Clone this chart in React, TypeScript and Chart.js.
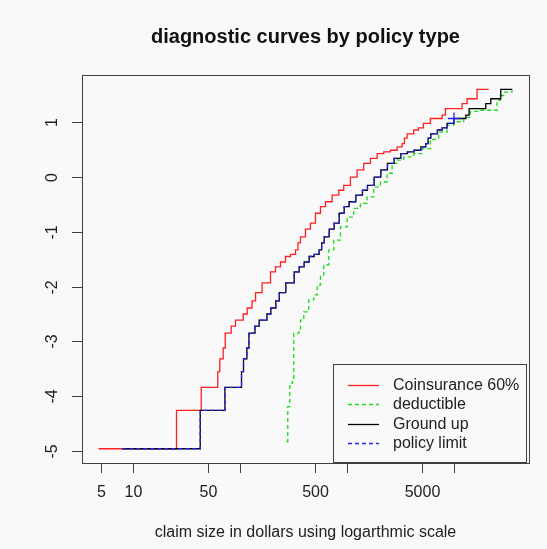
import { useEffect, useRef } from "react";
import { Chart, registerables } from "chart.js";

Chart.register(...registerables);

// ---- data ----
const coinsuranceX = [4.72, 25.3, 43.1, 61.6, 64.3, 69.2, 72.3, 82.3, 90.2, 106.5, 116, 129, 139, 160, 191.8, 213.5, 237.9, 264.9, 295, 328.6, 346.7, 365.9, 407.5, 453.9, 505.5, 563.1, 627, 724.3, 835, 929.9, 1074, 1241, 1431, 1653, 1909, 2201, 2543, 2938, 3271, 3437, 3643, 4201, 4648, 5176, 6019, 7745, 8314, 11912, 13275, 16456, 21125];
const coinsuranceY = [-4.96, -4.26, -3.84, -3.55, -3.32, -3.12, -2.85, -2.72, -2.61, -2.5, -2.39, -2.26, -2.11, -1.93, -1.73, -1.64, -1.55, -1.45, -1.41, -1.33, -1.2, -1.09, -0.95, -0.84, -0.66, -0.54, -0.45, -0.33, -0.24, -0.15, 0.0, 0.13, 0.25, 0.34, 0.43, 0.46, 0.49, 0.55, 0.61, 0.71, 0.79, 0.86, 0.9, 0.98, 1.07, 1.13, 1.25, 1.34, 1.43, 1.6, 1.6];

const deductibleX = [270.6, 278.3, 290.5, 307.9, 316.7, 352.8, 365.9, 392.8, 437.5, 487.4, 524.4, 563.1, 604.5, 673.1, 749.6, 865.9, 1000, 1153, 1332, 1539, 1774, 2050, 2368, 2638, 2938, 3386, 4201, 5033, 6019, 7196, 8627, 9940, 12331, 14243, 17670, 25319, 27189, 29180, 34978];
const deductibleY = [-4.83, -4.19, -3.76, -3.7, -2.85, -2.82, -2.61, -2.46, -2.24, -2.15, -1.97, -1.79, -1.6, -1.33, -1.15, -0.91, -0.73, -0.57, -0.48, -0.36, -0.18, -0.09, 0.07, 0.25, 0.31, 0.37, 0.43, 0.52, 0.69, 0.82, 0.95, 1.01, 1.09, 1.2, 1.22, 1.4, 1.49, 1.55, 1.58];

const groundUpX = [7.87, 42.2, 71.8, 102.7, 107.2, 115.3, 120.5, 137.2, 150.3, 177.5, 193.3, 215, 231.7, 266.7, 319.7, 355.8, 396.5, 441.5, 491.7, 547.7, 577.8, 609.8, 679.2, 756.5, 842.5, 938.5, 1045, 1207, 1392, 1550, 1790, 2068, 2385, 2755, 3182, 3668, 4238, 4897, 5452, 5728, 6072, 7002, 7747, 8627, 10000, 12908, 13857, 19853, 22125, 27427, 35208];
const groundUpY = [-4.96, -4.26, -3.84, -3.55, -3.32, -3.12, -2.85, -2.72, -2.61, -2.5, -2.39, -2.26, -2.11, -1.93, -1.73, -1.64, -1.55, -1.45, -1.41, -1.33, -1.2, -1.09, -0.95, -0.84, -0.66, -0.54, -0.45, -0.33, -0.24, -0.15, 0.0, 0.13, 0.25, 0.34, 0.43, 0.46, 0.49, 0.55, 0.61, 0.71, 0.79, 0.86, 0.9, 0.98, 1.07, 1.13, 1.25, 1.34, 1.43, 1.6, 1.6];

const policyLimitX = [7.87, 42.2, 71.8, 102.7, 107.2, 115.3, 120.5, 137.2, 150.3, 177.5, 193.3, 215, 231.7, 266.7, 319.7, 355.8, 396.5, 441.5, 491.7, 547.7, 577.8, 609.8, 679.2, 756.5, 842.5, 938.5, 1045, 1207, 1392, 1550, 1790, 2068, 2385, 2755, 3182, 3668, 4238, 4897, 5452, 5728, 6072, 7002, 7747, 8627, 10000];
const policyLimitY = [-4.96, -4.26, -3.84, -3.55, -3.32, -3.12, -2.85, -2.72, -2.61, -2.5, -2.39, -2.26, -2.11, -1.93, -1.73, -1.64, -1.55, -1.45, -1.41, -1.33, -1.2, -1.09, -0.95, -0.84, -0.66, -0.54, -0.45, -0.33, -0.24, -0.15, 0.0, 0.13, 0.25, 0.34, 0.43, 0.46, 0.49, 0.55, 0.61, 0.71, 0.79, 0.86, 0.9, 0.98, 1.07];

const xTicks = [5, 10, 50, 100, 500, 1000, 5000, 10000];
const xTickLabels = ["5", "10", "50", "", "500", "", "5000", ""];
const yTicks = [-5, -4, -3, -2, -1, 0, 1];
const yTickLabels = ["-5", "-4", "-3", "-2", "-1", "0", "1"];

const seriesLabels = ["Coinsurance 60%", "deductible", "Ground up", "policy limit"];
const seriesColors = ["#ff2020", "#18dd18", "#000000", "#2424ee"];
const seriesDashed = [false, true, false, true];

const titleText = "diagnostic curves by policy type";
const xTitleText = "claim size in dollars using logarthmic scale";

const FONT = "'Liberation Sans', Arial, Helvetica, sans-serif";
const BG = "#f9f9f9";

const toPoints = (xs: number[], ys: number[]) => xs.map((v, i) => ({ x: v, y: ys[i] }));

const rPlotPlugin = {
  id: "rPlot",
  beforeDraw(chart: any) {
    const { ctx, width, height } = chart;
    ctx.save();
    ctx.fillStyle = BG;
    ctx.fillRect(0, 0, width, height);
    ctx.restore();
  },
  afterDraw(chart: any) {
    const { ctx, chartArea: a, scales } = chart;
    const xs = scales.x;
    const ys = scales.y;
    ctx.save();
    const axisColor = "#404040";
    const textColor = "#222";
    ctx.strokeStyle = axisColor;
    ctx.lineWidth = 1;
    ctx.setLineDash([]);
    // box
    ctx.strokeRect(Math.round(a.left) + 0.5, Math.round(a.top) + 0.5, Math.round(a.right - a.left), Math.round(a.bottom - a.top));

    // x ticks
    ctx.font = `16px ${FONT}`;
    ctx.fillStyle = textColor;
    ctx.textAlign = "center";
    ctx.textBaseline = "middle";
    xTicks.forEach((v, i) => {
      const px = Math.round(xs.getPixelForValue(v)) + 0.5;
      ctx.beginPath();
      ctx.moveTo(px, a.bottom);
      ctx.lineTo(px, a.bottom + 10);
      ctx.stroke();
      if (xTickLabels[i]) ctx.fillText(xTickLabels[i], px, a.bottom + 30);
    });
    // y ticks
    yTicks.forEach((v, i) => {
      const py = Math.round(ys.getPixelForValue(v)) + 0.5;
      ctx.beginPath();
      ctx.moveTo(a.left, py);
      ctx.lineTo(a.left - 10, py);
      ctx.stroke();
      ctx.save();
      ctx.translate(a.left - 29, py);
      ctx.rotate(-Math.PI / 2);
      ctx.fillText(yTickLabels[i], 0, 0);
      ctx.restore();
    });

    // titles
    const cx = (a.left + a.right) / 2;
    ctx.font = `bold 20px ${FONT}`;
    ctx.fillStyle = "#111";
    ctx.fillText(titleText, cx, 37);
    ctx.font = `16px ${FONT}`;
    ctx.fillStyle = textColor;
    ctx.fillText(xTitleText, cx, 533);

    // legend
    const lr = a.right - 3;
    const lb = a.bottom - 1;
    const lw = 193;
    const lh = 98;
    const ll = lr - lw;
    const lt = lb - lh;
    ctx.fillStyle = BG;
    ctx.fillRect(ll, lt, lw, lh);
    ctx.strokeStyle = axisColor;
    ctx.strokeRect(Math.round(ll) + 0.5, Math.round(lt) + 0.5, lw, lh);
    ctx.textAlign = "left";
    seriesLabels.forEach((lab, i) => {
      const y = Math.round(lt + 21 + i * 19.3) + 0.5;
      ctx.strokeStyle = seriesColors[i];
      ctx.lineWidth = 1.3;
      ctx.setLineDash(seriesDashed[i] ? [4, 3] : []);
      ctx.beginPath();
      ctx.moveTo(ll + 15, y);
      ctx.lineTo(ll + 46, y);
      ctx.stroke();
      ctx.setLineDash([]);
      ctx.fillStyle = textColor;
      ctx.fillText(lab, ll + 60, y);
    });
    ctx.restore();
  },
};

export default function App() {
  const ref = useRef<HTMLCanvasElement | null>(null);
  useEffect(() => {
    document.body.style.margin = "0";
    document.body.style.background = BG;
    const canvas = ref.current;
    if (!canvas) return;
    const lastIdx = policyLimitX.length - 1;
    const chart = new Chart(canvas, {
      type: "line",
      data: {
        datasets: [
          {
            label: seriesLabels[0],
            data: toPoints(coinsuranceX, coinsuranceY),
            borderColor: seriesColors[0],
            borderWidth: 1.3,
            stepped: true,
            pointRadius: 0,
            fill: false,
            order: 4,
          },
          {
            label: seriesLabels[1],
            data: toPoints(deductibleX, deductibleY),
            borderColor: seriesColors[1],
            borderWidth: 1.3,
            borderDash: [4, 3],
            stepped: true,
            pointRadius: 0,
            fill: false,
            order: 3,
          },
          {
            label: seriesLabels[2],
            data: toPoints(groundUpX, groundUpY),
            borderColor: seriesColors[2],
            borderWidth: 1.3,
            stepped: true,
            pointRadius: 0,
            fill: false,
            order: 2,
          },
          {
            label: seriesLabels[3],
            data: toPoints(policyLimitX, policyLimitY),
            borderColor: seriesColors[3],
            backgroundColor: seriesColors[3],
            borderWidth: 1.3,
            borderDash: [4, 3],
            stepped: true,
            pointStyle: "cross",
            pointRadius: policyLimitX.map((_, i) => (i === lastIdx ? 6 : 0)),
            pointBorderWidth: 1.3,
            pointBorderColor: seriesColors[3],
            fill: false,
            order: 1,
          },
        ],
      },
      options: {
        responsive: false,
        animation: false,
        layout: { padding: { left: 82, top: 75, right: 18, bottom: 86 } },
        scales: {
          x: { type: "logarithmic", min: 3.3, max: 50400, display: false },
          y: { type: "linear", min: -5.22, max: 1.864, display: false },
        },
        plugins: {
          legend: { display: false },
          tooltip: { enabled: false },
          title: { display: false },
        },
        elements: { line: { tension: 0 } },
      },
      plugins: [rPlotPlugin],
    });
    return () => chart.destroy();
  }, []);
  return (
    <canvas
      ref={ref}
      width={547}
      height={549}
      style={{ position: "fixed", left: 0, top: 0, width: 547, height: 549, display: "block" }}
    />
  );
}
